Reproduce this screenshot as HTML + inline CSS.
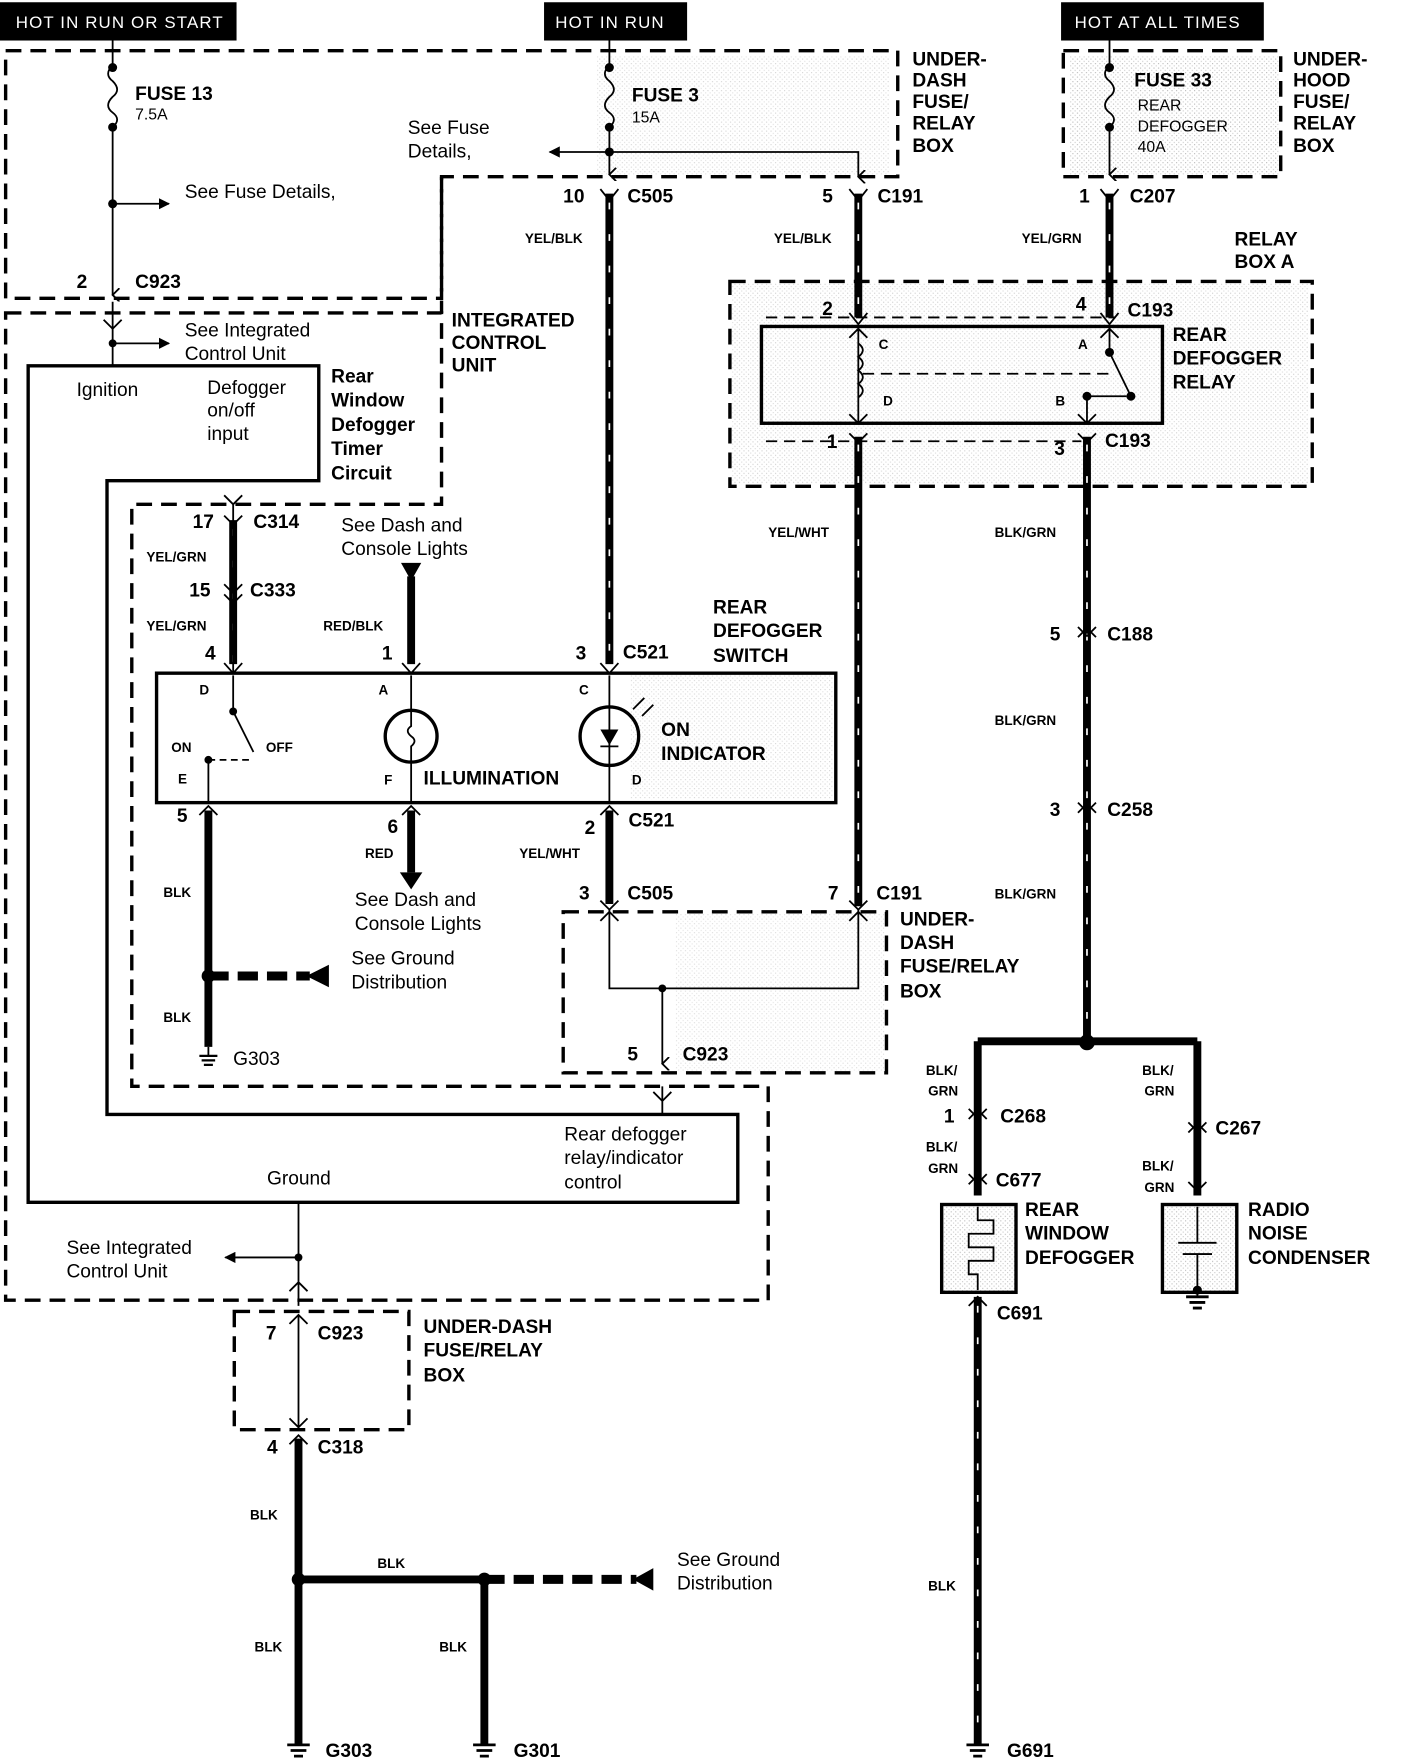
<!DOCTYPE html>
<html><head><meta charset="utf-8"><style>
html,body{margin:0;padding:0;background:#fff}
svg{display:block}
text{font-family:"Liberation Sans",Arial,sans-serif;fill:#000}
.b{font-weight:bold;font-size:17px}
.n{font-size:17px}
.s{font-weight:bold;font-size:12px}
.t{font-size:14px}
.d{fill:none;stroke:#000;stroke-width:3;stroke-dasharray:14 8}
.w{fill:none;stroke:#000;stroke-width:7}
.l{fill:none;stroke:#000;stroke-width:1.6}
.box{fill:none;stroke:#000;stroke-width:3}
.wd{stroke:#fff;stroke-width:1.5;stroke-dasharray:6 22}
</style></head><body>
<svg width="1408" height="1764" viewBox="0 0 1250 1567" preserveAspectRatio="none" xmlns="http://www.w3.org/2000/svg">
<defs>
<pattern id="dots" width="4" height="4" patternUnits="userSpaceOnUse"><rect width="4" height="4" fill="#fff"/><rect width="1" height="1" fill="#bbb"/><rect x="2" y="2" width="1" height="1" fill="#ccc"/></pattern>
<marker id="ah" markerWidth="10" markerHeight="10" refX="9" refY="5" orient="auto" markerUnits="userSpaceOnUse"><path d="M0,0 L10,5 L0,10 Z" fill="#000"/></marker>
<marker id="av" markerWidth="12" markerHeight="12" refX="6" refY="10" orient="auto" markerUnits="userSpaceOnUse"><path d="M0,4 L6,10 L12,4" fill="none" stroke="#000" stroke-width="1.6"/></marker>
</defs>
<rect x="0" y="0" width="1250" height="1567" fill="#fff"/>

<rect x="530" y="50" width="260" height="105" fill="url(#dots)" opacity="0.6"/>
<rect x="950" y="50" width="185" height="105" fill="url(#dots)"/>
<rect x="650" y="252" width="512" height="178" fill="url(#dots)" opacity="0.7"/>
<rect x="560" y="600" width="180" height="110" fill="url(#dots)" opacity="0.6"/>
<rect x="600" y="812" width="185" height="140" fill="url(#dots)" opacity="0.5"/>
<rect x="836" y="1070" width="66" height="78" fill="url(#dots)"/>
<rect x="1032" y="1070" width="66" height="78" fill="url(#dots)"/>

<rect x="0" y="2" width="210" height="34" fill="#000"/>
<text x="14" y="25" style="fill:#fff;font-size:15px;letter-spacing:1px">HOT IN RUN OR START</text>
<rect x="483" y="2" width="127" height="34" fill="#000"/>
<text x="493" y="25" style="fill:#fff;font-size:15px;letter-spacing:1px">HOT IN RUN</text>
<rect x="942" y="2" width="180" height="34" fill="#000"/>
<text x="954" y="25" style="fill:#fff;font-size:15px;letter-spacing:1px">HOT AT ALL TIMES</text>

<path class="d" d="M5,45 H797 V157 H392 V265 H5 Z"/>
<rect class="d" x="944" y="45" width="193" height="112"/>
<path class="d" d="M5,278 H392 V448 H117 V965 H682 V1155 H5 Z"/>
<path class="d" d="M392,157 V278"/>
<rect class="d" x="648" y="250" width="517" height="182"/>
<rect class="d" x="500" y="810" width="287" height="143"/>
<rect class="d" x="208" y="1165" width="155" height="105"/>

<path class="box" d="M25,325 H283 V427 H95 V990 H655 V1068 H25 Z"/>

<path class="l" d="M100,36 V58 M100,113 V262" marker-end="url(#av)"/>
<path class="l" d="M100,58 q-8,8 0,14 q8,8 0,14 q-8,8 0,14 q8,6 0,13"/>
<circle cx="100" cy="60" r="4"/><circle cx="100" cy="113" r="4"/><circle cx="100" cy="181" r="4"/>
<path class="l" d="M100,181 H150" marker-end="url(#ah)"/>
<text x="120" y="89" class="b">FUSE 13</text><text x="120" y="106" class="t">7.5A</text>
<text x="164" y="176" class="n">See Fuse Details,</text>
<text x="68" y="256" class="b">2</text><text x="120" y="256" class="b">C923</text>
<path class="l" d="M100,268 V325"/>
<path class="l" d="M92,284 L100,292 L108,284"/>
<circle cx="100" cy="305" r="3.5"/><path class="l" d="M100,305 H150" marker-end="url(#ah)"/>
<text x="164" y="299" class="n">See Integrated</text><text x="164" y="320" class="n">Control Unit</text>
<text x="68" y="352" class="n">Ignition</text>
<text x="184" y="350" class="n">Defogger</text><text x="184" y="370" class="n">on/off</text><text x="184" y="391" class="n">input</text>
<text x="294" y="340" class="b">Rear</text><text x="294" y="361" class="b">Window</text><text x="294" y="383" class="b">Defogger</text><text x="294" y="404" class="b">Timer</text><text x="294" y="426" class="b">Circuit</text>
<text x="401" y="290" class="b">INTEGRATED</text><text x="401" y="310" class="b">CONTROL</text><text x="401" y="330" class="b">UNIT</text>

<path class="l" d="M541,36 V58 M541,113 V155" marker-end="url(#av)"/>
<path class="l" d="M541,58 q-8,8 0,14 q8,8 0,14 q-8,8 0,14 q8,6 0,13"/>
<circle cx="541" cy="60" r="4"/><circle cx="541" cy="113" r="4"/><circle cx="541" cy="135" r="4"/>
<path class="l" d="M541,135 H488" marker-end="url(#ah)"/>
<path class="l" d="M541,135 H762 V157" marker-end="url(#av)"/>
<text x="561" y="90" class="b">FUSE 3</text><text x="561" y="109" class="t">15A</text>
<text x="362" y="119" class="n">See Fuse</text><text x="362" y="140" class="n">Details,</text>
<text x="810" y="58" class="b">UNDER-</text><text x="810" y="77" class="b">DASH</text><text x="810" y="96" class="b">FUSE/</text><text x="810" y="115" class="b">RELAY</text><text x="810" y="135" class="b">BOX</text>

<path class="l" d="M985,36 V58 M985,113 V155" marker-end="url(#av)"/>
<path class="l" d="M985,58 q-8,8 0,14 q8,8 0,14 q-8,8 0,14 q8,6 0,13"/>
<circle cx="985" cy="60" r="4"/><circle cx="985" cy="113" r="4"/>
<text x="1007" y="77" class="b">FUSE 33</text><text x="1010" y="98" class="t">REAR</text><text x="1010" y="117" class="t">DEFOGGER</text><text x="1010" y="135" class="t">40A</text>
<text x="1148" y="58" class="b">UNDER-</text><text x="1148" y="77" class="b">HOOD</text><text x="1148" y="96" class="b">FUSE/</text><text x="1148" y="115" class="b">RELAY</text><text x="1148" y="135" class="b">BOX</text>

<g class="w">
<path d="M541,172 V590"/>
<path d="M762,172 V282"/>
<path d="M985,172 V282"/>
<path d="M762,388 V805"/>
<path d="M965,388 V925 M868,925 H1063 M868,925 V1062 M1063,925 V1062"/>
<path d="M868,1152 V1550"/>
<path d="M207,462 V590"/>
<path d="M365,512 V590"/>
<path d="M185,720 V930"/>
<path d="M365,720 V775"/>
<path d="M541,720 V803"/>
<path d="M265,1278 V1550 M265,1403 H430 V1550"/>
</g>
<g class="wd">
<path d="M541,180 V590 M762,180 V282 M985,180 V282 M762,395 V805 M965,395 V925 M207,470 V590 M868,1160 V1550"/>
</g>
<path d="M430,1403 H565" stroke="#000" stroke-width="8" stroke-dasharray="18 8"/>
<path d="M562,1403 L580,1393 V1413 Z"/>
<path d="M185,867 H275" stroke="#000" stroke-width="8" stroke-dasharray="18 8"/>
<path d="M272,867 L292,857 V877 Z"/>
<path d="M356,500 H374 L365,516 Z"/>
<path d="M355,775 H375 L365,790 Z"/>
<circle cx="965" cy="926" r="7"/>
<circle cx="185" cy="867" r="6"/><circle cx="265" cy="1403" r="6"/><circle cx="430" cy="1403" r="6"/>

<g class="l" stroke-width="2.5">
<path d="M533,168 L541,178 L549,168 M754,168 L762,178 L770,168 M977,168 L985,178 L993,168"/>
<path d="M754,278 L762,288 L770,278 M977,278 L985,288 L993,278"/>
<path d="M754,385 L762,393 L770,385 M957,385 L965,393 L973,385"/>
<path d="M199,458 L207,466 L215,458 M199,519 L207,527 L215,519 M199,528 L207,536 L215,528"/>
<path d="M199,589 L207,598 L215,589 M357,589 L365,598 L373,589 M533,589 L541,598 L549,589"/>
<path d="M177,724 L185,716 L193,724 M357,724 L365,716 L373,724 M533,724 L541,716 L549,724"/>
<path d="M533,800 L541,808 L549,800 M754,800 L762,808 L770,800"/>
<path d="M957,557 L965,565 L973,557 M957,566 L965,558 L973,566 M957,713 L965,721 L973,713 M957,722 L965,714 L973,722"/>
<path d="M860,985 L868,993 L876,985 M860,994 L868,986 L876,994 M1055,997 L1063,1005 L1071,997 M1055,1006 L1063,998 L1071,1006"/>
<path d="M860,1043 L868,1051 L876,1043 M860,1052 L868,1044 L876,1052 M1055,1050 L1063,1058 L1071,1050"/>
<path d="M860,1160 L868,1152 L876,1160"/>
<path d="M257,1283 L265,1275 L273,1283"/>
</g>

<text x="500" y="180" class="b">10</text><text x="557" y="180" class="b">C505</text>
<text x="730" y="180" class="b">5</text><text x="779" y="180" class="b">C191</text>
<text x="958" y="180" class="b">1</text><text x="1003" y="180" class="b">C207</text>
<text x="466" y="216" class="s">YEL/BLK</text><text x="687" y="216" class="s">YEL/BLK</text><text x="907" y="216" class="s">YEL/GRN</text>
<text x="1096" y="218" class="b">RELAY</text><text x="1096" y="238" class="b">BOX A</text>

<rect class="box" x="676" y="290" width="356" height="86" fill="none"/>
<path class="l" d="M680,282 H990" stroke-dasharray="10 6"/>
<path class="l" d="M680,392 H960" stroke-dasharray="10 6"/>
<path class="l" d="M762,292 V376 M754,300 L762,292 L770,300 M754,368 L762,376 L770,368"/>
<path class="l" d="M762,305 q8,6 0,12 q8,6 0,12 q8,6 0,12 q8,6 0,12" fill="#fff"/>
<path class="l" d="M766,332 H985" stroke-dasharray="10 6"/>
<path class="l" d="M985,292 V313 L1004,352 M977,300 L985,292 L993,300"/>
<circle cx="985" cy="313" r="4"/><circle cx="1004" cy="352" r="4"/><circle cx="965" cy="352" r="4"/>
<path class="l" d="M965,352 V376 M957,368 L965,376 L973,368 M965,352 H1000"/>
<text x="780" y="310" class="s">C</text><text x="784" y="360" class="s">D</text><text x="957" y="310" class="s">A</text><text x="937" y="360" class="s">B</text>
<text x="730" y="280" class="b">2</text><text x="955" y="276" class="b">4</text><text x="1001" y="281" class="b">C193</text>
<text x="734" y="398" class="b">1</text><text x="936" y="404" class="b">3</text><text x="981" y="397" class="b">C193</text>
<text x="1041" y="303" class="b">REAR</text><text x="1041" y="324" class="b">DEFOGGER</text><text x="1041" y="345" class="b">RELAY</text>

<text x="682" y="477" class="s">YEL/WHT</text>
<text x="883" y="477" class="s">BLK/GRN</text>
<text x="932" y="569" class="b">5</text><text x="983" y="569" class="b">C188</text>
<text x="883" y="644" class="s">BLK/GRN</text>
<text x="932" y="725" class="b">3</text><text x="983" y="725" class="b">C258</text>
<text x="883" y="798" class="s">BLK/GRN</text>

<path class="l" d="M207,598 V448" /><path class="l" d="M199,440 L207,448 L215,440"/>
<text x="171" y="469" class="b">17</text><text x="225" y="469" class="b">C314</text>
<text x="130" y="499" class="s">YEL/GRN</text>
<text x="168" y="530" class="b">15</text><text x="222" y="530" class="b">C333</text>
<text x="130" y="560" class="s">YEL/GRN</text>
<text x="182" y="586" class="b">4</text><text x="339" y="586" class="b">1</text><text x="511" y="586" class="b">3</text><text x="553" y="585" class="b">C521</text>
<text x="303" y="472" class="n">See Dash and</text><text x="303" y="493" class="n">Console Lights</text>
<text x="287" y="560" class="s">RED/BLK</text>
<text x="633" y="545" class="b">REAR</text><text x="633" y="566" class="b">DEFOGGER</text><text x="633" y="588" class="b">SWITCH</text>

<rect class="box" x="139" y="598" width="603" height="115"/>
<path class="l" d="M207,600 V632 L225,668 M185,675 V712"/>
<circle cx="207" cy="632" r="3.5"/><circle cx="185" cy="675" r="3.5"/>
<path class="l" d="M185,675 H225" stroke-dasharray="6 4"/>
<text x="177" y="617" class="s">D</text><text x="152" y="668" class="s">ON</text><text x="236" y="668" class="s">OFF</text><text x="158" y="696" class="s">E</text>
<path class="l" d="M365,600 V632 M365,676 V712"/>
<circle cx="365" cy="654" r="23" fill="none" stroke="#000" stroke-width="3"/>
<path class="l" d="M365,632 V645 q-6,4 0,9 q6,4 0,9 V676"/>
<text x="336" y="617" class="s">A</text><text x="341" y="697" class="s">F</text>
<text x="376" y="697" class="b">ILLUMINATION</text>
<path class="l" d="M541,600 V712"/>
<circle cx="541" cy="654" r="26" fill="none" stroke="#000" stroke-width="3"/>
<path d="M533,648 H549 L541,662 Z"/><path class="l" d="M533,663 H549" stroke-width="2"/>
<path class="l" d="M562,630 L572,620 M570,636 L580,626"/>
<text x="514" y="617" class="s">C</text><text x="561" y="697" class="s">D</text>
<text x="587" y="654" class="b">ON</text><text x="587" y="675" class="b">INDICATOR</text>

<text x="157" y="730" class="b">5</text><text x="344" y="740" class="b">6</text><text x="519" y="741" class="b">2</text><text x="558" y="734" class="b">C521</text>
<text x="324" y="762" class="s">RED</text><text x="461" y="762" class="s">YEL/WHT</text>
<text x="145" y="797" class="s">BLK</text>
<text x="315" y="805" class="n">See Dash and</text><text x="315" y="826" class="n">Console Lights</text>
<text x="312" y="857" class="n">See Ground</text><text x="312" y="878" class="n">Distribution</text>
<text x="145" y="908" class="s">BLK</text>
<path class="l" d="M185,930 V938" /><path d="M177,938 H193 M179,942 H191 M181,946 H189" stroke="#000" stroke-width="2"/>
<text x="207" y="946" class="n">G303</text>

<text x="514" y="799" class="b">3</text><text x="557" y="799" class="b">C505</text>
<text x="735" y="799" class="b">7</text><text x="778" y="799" class="b">C191</text>
<path class="l" d="M541,808 V878 H762 V808 M533,818 L541,810 L549,818 M754,818 L762,810 L770,818"/>
<circle cx="588" cy="878" r="3.5"/><path class="l" d="M588,878 V945" marker-end="url(#av)"/>
<text x="557" y="942" class="b">5</text><text x="606" y="942" class="b">C923</text>
<text x="799" y="822" class="b">UNDER-</text><text x="799" y="843" class="b">DASH</text><text x="799" y="864" class="b">FUSE/RELAY</text><text x="799" y="886" class="b">BOX</text>

<path class="l" d="M588,965 V990 M580,970 L588,978 L596,970"/>
<text x="501" y="1013" class="n">Rear defogger</text><text x="501" y="1034" class="n">relay/indicator</text><text x="501" y="1056" class="n">control</text>
<text x="237" y="1052" class="n">Ground</text>
<path class="l" d="M265,1068 V1160 M257,1147 L265,1139 L273,1147"/>
<circle cx="265" cy="1117" r="3.5"/><path class="l" d="M265,1117 H200" marker-end="url(#ah)"/>
<text x="59" y="1114" class="n">See Integrated</text><text x="59" y="1135" class="n">Control Unit</text>

<path class="l" d="M265,1168 V1268 M257,1176 L265,1168 L273,1176 M257,1260 L265,1268 L273,1260"/>
<text x="236" y="1190" class="b">7</text><text x="282" y="1190" class="b">C923</text>
<text x="376" y="1184" class="b">UNDER-DASH</text><text x="376" y="1205" class="b">FUSE/RELAY</text><text x="376" y="1227" class="b">BOX</text>
<text x="237" y="1291" class="b">4</text><text x="282" y="1291" class="b">C318</text>
<text x="222" y="1350" class="s">BLK</text><text x="335" y="1393" class="s">BLK</text>
<text x="601" y="1391" class="n">See Ground</text><text x="601" y="1412" class="n">Distribution</text>
<text x="226" y="1467" class="s">BLK</text><text x="390" y="1467" class="s">BLK</text>
<text x="824" y="1413" class="s">BLK</text>

<g stroke="#000" stroke-width="2.5">
<path d="M255,1550 H275 M258,1555 H272 M261,1560 H269"/>
<path d="M420,1550 H440 M423,1555 H437 M426,1560 H434"/>
<path d="M858,1550 H878 M861,1555 H875 M864,1560 H872"/>
<path d="M1053,1152 H1073 M1056,1157 H1070 M1059,1162 H1067"/>
</g>
<text x="289" y="1561" class="b">G303</text><text x="456" y="1561" class="b">G301</text><text x="894" y="1561" class="b">G691</text>

<text x="822" y="955" class="s">BLK/</text><text x="824" y="973" class="s">GRN</text>
<text x="1014" y="955" class="s">BLK/</text><text x="1016" y="973" class="s">GRN</text>
<text x="838" y="997" class="b">1</text><text x="888" y="997" class="b">C268</text>
<text x="1079" y="1008" class="b">C267</text>
<text x="822" y="1023" class="s">BLK/</text><text x="824" y="1042" class="s">GRN</text>
<text x="1014" y="1040" class="s">BLK/</text><text x="1016" y="1059" class="s">GRN</text>
<text x="884" y="1054" class="b">C677</text>
<rect class="box" x="836" y="1070" width="66" height="78"/>
<path class="l" d="M868,1072 V1084 H882 V1096 H860 V1108 H882 V1120 H860 V1132 H868 V1146" stroke-width="2.2"/>
<text x="910" y="1080" class="b">REAR</text><text x="910" y="1101" class="b">WINDOW</text><text x="910" y="1123" class="b">DEFOGGER</text>
<rect class="box" x="1032" y="1070" width="66" height="78"/>
<path class="l" d="M1063,1072 V1104 M1046,1104 H1080 M1050,1114 H1076 M1063,1114 V1152" stroke-width="2.2"/>
<circle cx="1063" cy="1146" r="4"/>
<text x="1108" y="1080" class="b">RADIO</text><text x="1108" y="1101" class="b">NOISE</text><text x="1108" y="1123" class="b">CONDENSER</text>
<text x="885" y="1172" class="b">C691</text>
</svg>
</body></html>
